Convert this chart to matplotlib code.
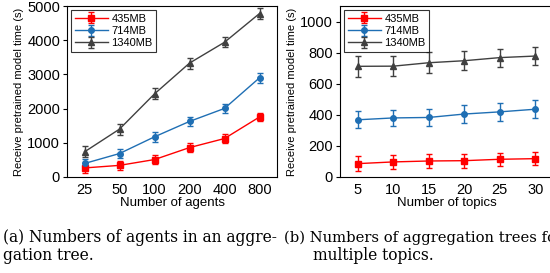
import matplotlib
matplotlib.use("Agg")
import matplotlib.pyplot as plt
import numpy as np

# ---- data ----
agents = ["25", "50", "100", "200", "400", "800"]
a_435 = [265, 340, 510, 860, 1125, 1755]
a_435_err = [150, 140, 140, 140, 140, 130]
a_714 = [395, 686, 1175, 1625, 2005, 2900]
a_714_err = [140, 140, 140, 140, 140, 140]
a_1340 = [735, 1400, 2430, 3330, 3940, 4780]
a_1340_err = [160, 160, 160, 160, 150, 170]

topics = [5, 10, 15, 20, 25, 30]
t_435 = [86, 97, 103, 105, 114, 118]
t_435_err = [48, 45, 45, 45, 42, 40]
t_714 = [368, 380, 383, 405, 419, 436]
t_714_err = [54, 54, 54, 56, 58, 58]
t_1340 = [712, 713, 735, 748, 768, 778]
t_1340_err = [67, 65, 68, 62, 58, 58]

labels = ["435MB", "714MB", "1340MB"]
colors = ["#ff0000", "#1f6fb4", "#404040"]
markers = ["s", "o", "^"]

plt.rcParams['font.family'] = ['Liberation Sans', 'DejaVu Sans']

fig = plt.figure(figsize=(5.5, 2.73), dpi=100)
W, H = 550, 273

def ax_rect(x0, x1, ytop, ybot):
    return [x0 / W, (H - ybot) / H, (x1 - x0) / W, (ybot - ytop) / H]

ax1 = fig.add_axes(ax_rect(67, 277, 6, 177))
ax2 = fig.add_axes(ax_rect(340, 553, 6, 177))

def draw(ax, x, series, errs):
    for s, e, c, m, l in zip(series, errs, colors, markers, labels):
        ax.errorbar(x, s, yerr=e, color=c, marker=m, markersize=4, lw=1.0,
                    elinewidth=1.0, capsize=2.5, capthick=1.0, label=l)
    leg = ax.legend(loc="upper left", fontsize=8, handlelength=3.0,
                    frameon=True, fancybox=False, edgecolor="black",
                    borderpad=0.3, labelspacing=0.2, handletextpad=0.3,
                    borderaxespad=0.4)
    leg.get_frame().set_linewidth(0.8)
    for sp in ax.spines.values():
        sp.set_linewidth(0.8)
    ax.tick_params(axis="both", labelsize=10.5, direction="out", length=3, width=0.8, pad=2)
    ax.set_ylabel("Receive pretrained model time (s)", fontsize=8, labelpad=2)

xa = np.arange(len(agents))
draw(ax1, xa, [a_435, a_714, a_1340], [a_435_err, a_714_err, a_1340_err])
ax1.set_xticks(xa)
ax1.set_xticklabels(agents)
ax1.set_xlim(-0.5, 5.5)
ax1.set_ylim(0, 5000)
ax1.set_yticks([0, 1000, 2000, 3000, 4000, 5000])
ax1.set_xlabel("Number of agents", fontsize=9.5, labelpad=0)
ax1.tick_params(axis="x", length=0, pad=4)

draw(ax2, topics, [t_435, t_714, t_1340], [t_435_err, t_714_err, t_1340_err])
ax2.set_xticks(topics)
ax2.set_xlim(2.5, 32.5)
ax2.set_ylim(0, 1100)
ax2.set_yticks([0, 200, 400, 600, 800, 1000])
ax2.set_xlabel("Number of topics", fontsize=9.5, labelpad=0)
ax2.tick_params(axis="x", length=0, pad=4)

cap = dict(family=['DejaVu Serif'], fontsize=11.2, ha="left", va="baseline")
fig.text(3 / W, 1 - 242 / H, "(a) Numbers of agents in an aggre-", **cap)
fig.text(3 / W, 1 - 260 / H, "gation tree.", **cap)
capb = dict(cap, fontsize=10.6)
fig.text(284 / W, 1 - 242 / H, "(b) Numbers of aggregation trees for", **capb)
fig.text(313 / W, 1 - 260 / H, "multiple topics.", **cap)

fig.savefig("out.png", dpi=100)
